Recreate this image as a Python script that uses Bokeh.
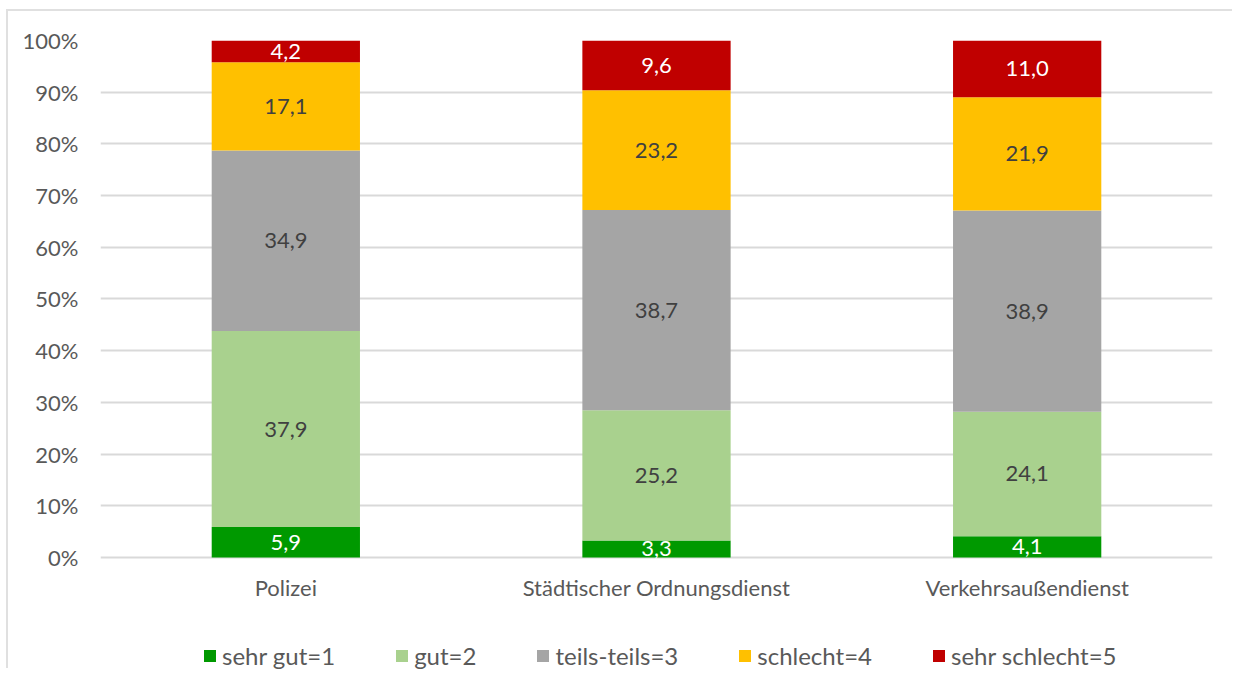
import numpy as np
from bokeh.plotting import figure
from bokeh.models import ColumnDataSource, LabelSet, Legend, LegendItem, FixedTicker
from bokeh.core.properties import value
from bokeh.embed import file_html
from bokeh.resources import INLINE

categories = ["Polizei", "Städtischer Ordnungsdienst", "Verkehrsaußendienst"]
series = ["sehr gut=1", "gut=2", "teils-teils=3", "schlecht=4", "sehr schlecht=5"]
sehr_gut = [5.9, 3.3, 4.1]
gut = [37.9, 25.2, 24.1]
teils = [34.9, 38.7, 38.9]
schlecht = [17.1, 23.2, 21.9]
sehr_schlecht = [4.2, 9.6, 11.0]
y_ticks = [0, 10, 20, 30, 40, 50, 60, 70, 80, 90, 100]
y_tick_labels = ["0%", "10%", "20%", "30%", "40%", "50%", "60%", "70%", "80%", "90%", "100%"]

colors = ["#009900", "#A9D18E", "#A5A5A5", "#FFC000", "#C00000"]
label_colors = ["#FFFFFF", "#404040", "#404040", "#404040", "#FFFFFF"]
FONT = "Lato"
FS = "22px"
TXT = "#595959"

values = [sehr_gut, gut, teils, schlecht, sehr_schlecht]
keys = ["s1", "s2", "s3", "s4", "s5"]
data = {"cat": categories}
for k, v in zip(keys, values):
    data[k] = v
source = ColumnDataSource(data)

# frame extends below the 0% line to hold category labels and legend
p = figure(x_range=categories, y_range=(-21.86, 100), width=1226, height=659,
           output_backend="svg", toolbar_location=None, x_axis_location=None,
           min_border_left=92, min_border_right=22, min_border_top=29, min_border_bottom=0)
p.outline_line_color = None
p.styles = {"border-top": "2px solid #e0e0e0", "border-left": "2px solid #e0e0e0",
            "margin-left": "6px", "margin-top": "9px"}

renderers = p.vbar_stack(keys, x="cat", width=0.4, source=source, color=colors, line_color=None)

# value labels
arr = np.array(values)
bottoms = np.vstack([np.zeros(arr.shape[1]), np.cumsum(arr, axis=0)[:-1]])
mids = bottoms + arr / 2
for i in range(len(values)):
    lab_src = ColumnDataSource(dict(x=categories, y=list(mids[i]),
                                    t=[f"{v:.1f}".replace(".", ",") for v in values[i]]))
    p.add_layout(LabelSet(x="x", y="y", text="t", source=lab_src, text_align="center",
                          text_baseline="middle", text_color=label_colors[i],
                          text_font=value(FONT), text_font_size=FS))

# category labels below the 0% line
cat_src = ColumnDataSource(dict(x=categories, y=[0] * len(categories), t=categories))
p.add_layout(LabelSet(x="x", y="y", text="t", source=cat_src, text_align="center",
                      text_baseline="middle", y_offset=-30, text_color=TXT,
                      text_font=value(FONT), text_font_size=FS))

p.yaxis.ticker = FixedTicker(ticks=y_ticks)
p.yaxis.major_label_overrides = {t: l for t, l in zip(y_ticks, y_tick_labels)}
p.yaxis.axis_line_color = None
p.yaxis.major_tick_line_color = None
p.yaxis.minor_tick_line_color = None
p.yaxis.major_tick_out = 0
p.yaxis.major_tick_in = 0
p.yaxis.major_label_text_font = FONT
p.yaxis.major_label_text_font_size = FS
p.yaxis.major_label_text_color = TXT
p.yaxis.major_label_standoff = 22

p.xgrid.grid_line_color = None
p.ygrid.grid_line_color = "#d9d9d9"
p.ygrid.grid_line_width = 2

legend = Legend(items=[LegendItem(label=s, renderers=[r]) for s, r in zip(series, renderers)],
                orientation="horizontal", location=(102, 0))
legend.label_text_font = FONT
legend.label_text_font_size = "24px"
legend.label_text_color = TXT
legend.glyph_width = 15
legend.glyph_height = 15
legend.spacing = 59
legend.label_standoff = 5
legend.border_line_color = None
legend.background_fill_alpha = 0
legend.margin = 0
legend.padding = 0
p.add_layout(legend, "center")

open("out.html", "w").write(file_html(p, INLINE))
